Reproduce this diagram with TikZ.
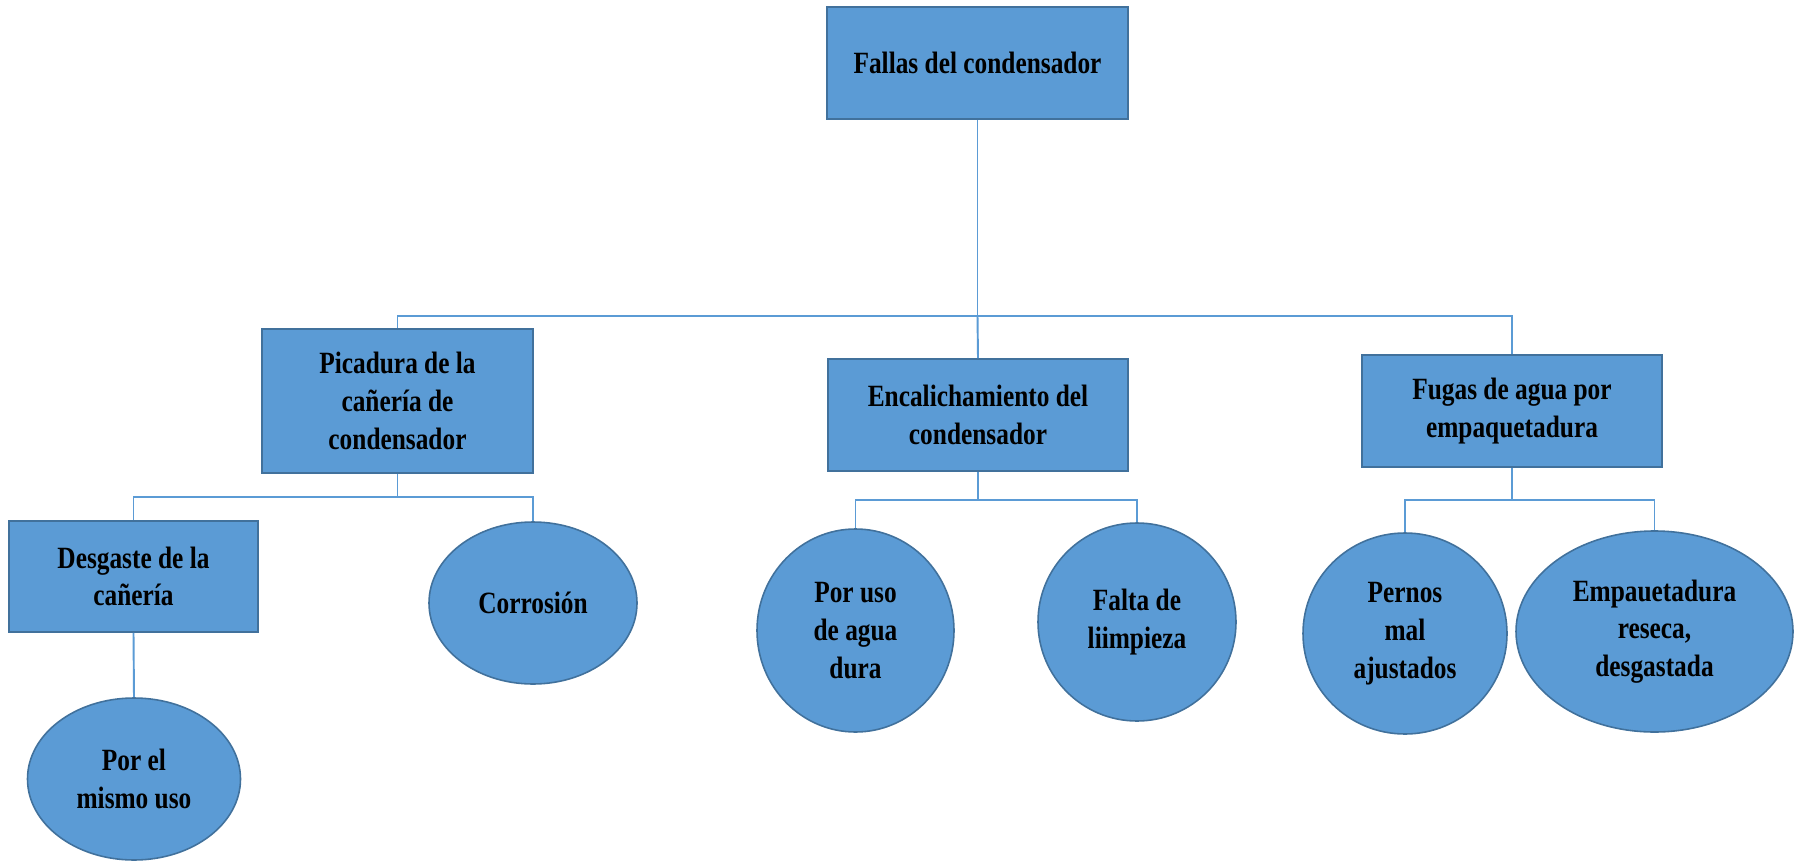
\documentclass[tikz,border=0pt]{standalone}
\usepackage{fontspec}
\setmainfont{Liberation Serif}[FakeStretch=0.82]
\usetikzlibrary{shapes.geometric}
\definecolor{boxfill}{HTML}{5B9BD5}
\definecolor{boxline}{HTML}{41719C}
\definecolor{linkcol}{HTML}{5B9BD5}
\begin{document}
\begin{tikzpicture}[x=0.02cm,y=-0.02cm,
  lbl/.style={font=\fontsize{17.6}{21.5}\selectfont\bfseries, align=center, text=black},
  rbox/.style={lbl, rectangle, draw=boxline, fill=boxfill, line width=0.9pt, inner sep=0pt},
  oval/.style={lbl, ellipse, draw=boxline, fill=boxfill, line width=0.9pt, inner sep=0pt},
  conn/.style={draw=linkcol, line width=1.1pt}]
\useasboundingbox (0,0) rectangle (1795,862);

% boxes
\node[rbox, minimum width=301*0.02cm, minimum height=112*0.02cm] (top) at (977.5,63) {Fallas del condensador};
\node[rbox, minimum width=271*0.02cm, minimum height=144*0.02cm] (pic) at (397.5,401) {Picadura de la\\cañería de\\condensador};
\node[rbox, minimum width=300*0.02cm, minimum height=112*0.02cm] (enc) at (978,415) {Encalichamiento del\\condensador};
\node[rbox, minimum width=300*0.02cm, minimum height=112*0.02cm] (fug) at (1512,411) {Fugas de agua por\\empaquetadura};
\node[rbox, minimum width=249*0.02cm, minimum height=111*0.02cm] (des) at (133.5,576.5) {Desgaste de la\\cañería};

% ovals
\node[oval, minimum width=213*0.02cm, minimum height=162*0.02cm] (mis) at (134,779) {Por el\\mismo uso};
\node[oval, minimum width=208*0.02cm, minimum height=162*0.02cm] (cor) at (533,603) {Corrosión};
\node[oval, minimum width=197*0.02cm, minimum height=203*0.02cm] (dur) at (855.5,630.5) {Por uso\\de agua\\dura};
\node[oval, minimum width=198*0.02cm, minimum height=198*0.02cm] (lim) at (1137,622) {Falta de\\liimpieza};
\node[oval, minimum width=204*0.02cm, minimum height=201*0.02cm] (per) at (1405,633.5) {Pernos\\mal\\ajustados};
\node[oval, minimum width=277*0.02cm, minimum height=201*0.02cm] (emp) at (1654.5,631.5) {Empauetadura\\reseca,\\desgastada};

% bus levels
\coordinate (bus0) at (0,316);
\coordinate (bus1) at (0,497);
\coordinate (bus2) at (0,500);

% connectors
\begin{scope}[on background layer/.try]
\draw[conn] (top.south) -- (top.south |- bus0) -| (pic.north);
\draw[conn] (top.south |- bus0) -| (fug.north);
\draw[conn] (top.south |- bus0) -- (enc.north);
\draw[conn] (pic.south) -- (pic.south |- bus1) -| (des.north);
\draw[conn] (pic.south |- bus1) -| (cor.north);
\draw[conn] (des.south) -- (mis.north);
\draw[conn] (enc.south) -- (enc.south |- bus2) -| (dur.north);
\draw[conn] (enc.south |- bus2) -| (lim.north);
\draw[conn] (fug.south) -- (fug.south |- bus2) -| (per.north);
\draw[conn] (fug.south |- bus2) -| (emp.north);
\end{scope}
\end{tikzpicture}
\end{document}
